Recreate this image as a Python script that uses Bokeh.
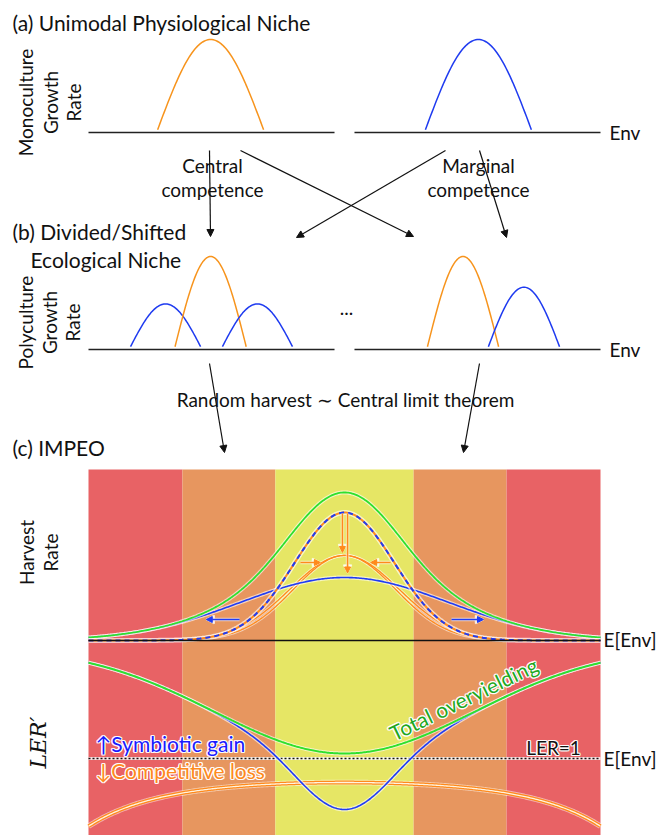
import numpy as np
from bokeh.plotting import figure
from bokeh.models import Range1d, Arrow, NormalHead
from bokeh.core.properties import value
from bokeh.embed import file_html
from bokeh.resources import INLINE

# ---------------- data ----------------
# Panel (a): monoculture growth-rate bumps (centre on Env axis, half-width, peak rate)
mono_colors = ["#F7941D", "#1F3BF0"]
mono_center = [-0.523, 0.523]
mono_halfwidth = [0.207, 0.207]
mono_peak = [1.0, 1.0]

# Panel (b): polyculture growth-rate bumps
poly_colors = ["#1F3BF0", "#F7941D", "#1F3BF0", "#F7941D", "#1F3BF0"]
poly_center = [-0.699, -0.523, -0.340, 0.463, 0.701]
poly_halfwidth = [0.137, 0.139, 0.137, 0.139, 0.139]
poly_peak = [0.49, 1.0, 0.49, 1.0, 0.67]
bump_floor = 0.03

# Panel (c) background bands (Env edges, colours)
band_edges = [-1.0, -0.633, -0.27, 0.27, 0.633, 1.0]
band_colors = ["#E86265", "#E7965F", "#E6E665", "#E7965F", "#E86265"]

# Panel (c) harvest-rate curves: peak, width
comp_peak = 0.567
comp_sigma = [0.198, 0.212]          # double orange line
symb_peak = 0.42
symb_sigma = 0.406
mono_mean_peak = 0.853
mono_mean_sigma = 0.195

# Panel (c) LER' curves
ler_total_min = 1.05
ler_total_rise = 1.06
ler_total_sigma = 0.508
ler_symb_dip = 0.56
ler_symb_sigma = 0.172
ler_comp_top = 0.76
ler_comp_scale = 0.133
ler_comp_sigma = 0.586

# arrows in panel (c) (Env, harvest rate)
vert_arrow_x = [-0.008, 0.012]
vert_arrow_from = 0.847
horiz_arrows = [(-0.172, -0.094, 0.52), (0.180, 0.102, 0.52)]
blue_arrows = [(-0.41, -0.54, 0.14), (0.418, 0.543, 0.14)]

ORANGE = "#FF8A1C"
BLUE = "#1F3BF5"
GREEN = "#2EE02E"
FONT = "Lato"

# ---------------- figure ----------------
W, H = 656, 835
p = figure(width=W, height=H, x_range=Range1d(0, W), y_range=Range1d(H, 0),
           output_backend="svg", toolbar_location=None, min_border=0,
           x_axis_type=None, y_axis_type=None)
p.grid.visible = False
p.outline_line_color = None
p.background_fill_color = "white"
p.border_fill_color = "white"

p.extra_x_ranges = {"env": Range1d((0 - 344) / 256, (W - 344) / 256)}
p.extra_y_ranges = {
    "a": Range1d((132 - H) / 93, 132 / 93),
    "b": Range1d((349 - H) / 93, 349 / 93),
    "h": Range1d((640 - H) / 150, 640 / 150),
    "ler": Range1d(1 + (758 - H) / 100, 1 + 758 / 100),
}

def bump(c, hw, pk):
    e = np.linspace(c - hw, c + hw, 81)
    v = bump_floor + (pk - bump_floor) * np.cos(np.pi / 2 * (e - c) / hw)
    return e, v

# panel (a) and (b) axes
for yr in ["a", "b"]:
    for x0, x1 in [(-1.0, -0.039), (0.039, 1.0)]:
        p.line([x0, x1], [0, 0], x_range_name="env", y_range_name=yr,
               line_color="#222222", line_width=1.3)

for c, hw, pk, col in zip(mono_center, mono_halfwidth, mono_peak, mono_colors):
    e, v = bump(c, hw, pk)
    p.line(e, v, x_range_name="env", y_range_name="a", line_color=col, line_width=1.5)

for c, hw, pk, col in zip(poly_center, poly_halfwidth, poly_peak, poly_colors):
    e, v = bump(c, hw, pk)
    p.line(e, v, x_range_name="env", y_range_name="b", line_color=col, line_width=1.5)

# panel (c) background
for i, col in enumerate(band_colors):
    p.quad(left=band_edges[i], right=band_edges[i + 1], bottom=-1.4, top=1.14,
           x_range_name="env", y_range_name="h", fill_color=col, line_color=None)

env = np.linspace(-1, 1, 401)
g = lambda pk, s: pk * np.exp(-env ** 2 / (2 * s ** 2))

comp = [g(comp_peak, s) for s in comp_sigma]
symb = g(symb_peak, symb_sigma)
total = g(comp_peak, np.mean(comp_sigma)) + symb
mono_mean = g(mono_mean_peak, mono_mean_sigma)

def L_(x, y, yr, col, w, alpha=1.0, dash="solid"):
    p.line(x, y, x_range_name="env", y_range_name=yr, line_color=col,
           line_width=w, line_alpha=alpha, line_dash=dash)

def halo_line(x, y, yr, col, w=1.6, halo=4.0, halo_alpha=0.6):
    L_(x, y, yr, "white", halo, halo_alpha)
    L_(x, y, yr, col, w)

for c in comp:
    L_(env, c, "h", "white", 3.2, 0.55)
for c in comp:
    L_(env, c, "h", ORANGE, 1.3)
halo_line(env, symb, "h", BLUE)
halo_line(env, total, "h", GREEN, w=1.8)
# dashed mean monoculture curve: orange under blue dashes
halo_line(env, mono_mean, "h", ORANGE, w=2.0, halo=5.0, halo_alpha=0.65)
L_(env, mono_mean, "h", BLUE, 2.0, dash="5 4")
# baseline
p.line([-1, 1], [0, 0], x_range_name="env", y_range_name="h", line_color="#111111", line_width=1.3)

# arrows in panel (c)
def arrow(x0, y0, x1, y1, col, size=6):
    p.add_layout(Arrow(end=NormalHead(size=size + 2, fill_color="white", line_color="white", line_width=1.5,
                                      fill_alpha=0.7, line_alpha=0.7),
                       x_start=x0, y_start=y0, x_end=x1, y_end=y1,
                       x_range_name="env", y_range_name="h",
                       line_color="white", line_width=3.5, line_alpha=0.6))
    p.add_layout(Arrow(end=NormalHead(size=size, fill_color=col, line_color=col, line_width=1),
                       x_start=x0, y_start=y0, x_end=x1, y_end=y1,
                       x_range_name="env", y_range_name="h",
                       line_color=col, line_width=1.6))

arrow(vert_arrow_x[0], vert_arrow_from, vert_arrow_x[0], comp_peak + 0.02, ORANGE)
arrow(vert_arrow_x[1], vert_arrow_from, vert_arrow_x[1], symb_peak + 0.03, ORANGE)
for x0, x1, y in horiz_arrows:
    arrow(x0, y, x1, y, ORANGE)
for x0, x1, y in blue_arrows:
    arrow(x0, y, x1, y, BLUE)

# LER' panel
ler_total = ler_total_min + ler_total_rise * (1 - np.exp(-env ** 2 / (2 * ler_total_sigma ** 2)))
ler_symb = ler_total - ler_symb_dip * np.exp(-env ** 2 / (2 * ler_symb_sigma ** 2))
ler_comp = ler_comp_top - ler_comp_scale * (np.exp(env ** 2 / (2 * ler_comp_sigma ** 2)) - 1)

L_([-1, 1], [1, 1], "ler", "white", 3.0, 0.8)
L_([-1, 1], [1, 1], "ler", "#111111", 1.3, dash="2 2")
# double orange line (orange - white - orange)
L_(env, ler_comp, "ler", "white", 5.6, 0.5)
L_(env, ler_comp, "ler", ORANGE, 3.8)
L_(env, ler_comp, "ler", "#FFF3E0", 1.3)
halo_line(env, ler_symb, "ler", BLUE)
halo_line(env, ler_total, "ler", GREEN, w=2.0)

# black arrows between panels (layout positions)
black_arrows = [(209, 150, 210, 236), (240, 150, 413, 236), (445, 150, 296, 237),
                (479, 150, 506, 237), (209, 363, 224, 452), (479, 363, 463, 452)]
for x0, y0, x1, y1 in black_arrows:
    p.add_layout(Arrow(end=NormalHead(size=7, fill_color="#111111", line_color="#111111"),
                       x_start=x0, y_start=y0, x_end=x1, y_end=y1,
                       line_color="#111111", line_width=1.2))

# ---------------- texts ----------------
def txt(x, y, s, size=19, align="left", baseline="middle", color="#111111", angle=0,
        font=FONT, style="normal", outline=False):
    def one(xx, yy, col, alpha=1.0):
        p.text(x=[xx], y=[yy], text=[s], text_font=value(font), text_font_size=f"{size}px",
               text_align=align, text_baseline=baseline, text_color=col, text_alpha=alpha,
               angle=angle, text_font_style=style)
    if outline:
        for dx, dy in [(-1.3, 0), (1.3, 0), (0, -1.3), (0, 1.3),
                       (-1, -1), (1, 1), (-1, 1), (1, -1)]:
            one(x + dx, y + dy, "white", 0.85)
    one(x, y, color)

T = 21
L = 19
txt(12, 22, "(a) Unimodal Physiological Niche", T)
txt(12, 231, "(b) Divided/Shifted", T)
txt(30, 259, "Ecological Niche", T)
txt(12, 447, "(c) IMPEO", T)

R = np.pi / 2
for x, s in [(25, "Monoculture"), (50, "Growth"), (73, "Rate")]:
    txt(x, 102, s, L, align="center", angle=R)
for x, s in [(25, "Polyculture"), (49, "Growth"), (72, "Rate")]:
    txt(x, 322, s, L, align="center", angle=R)
for x, s in [(26, "Harvest"), (50, "Rate")]:
    txt(x, 552, s, L, align="center", angle=R)
txt(38, 742, "LER\u2032", 22, align="center", angle=R, font="DejaVu Serif", style="italic")

txt(609, 132, "Env", L)
txt(609, 349, "Env", L)
txt(603, 639, "E[Env]", L)
txt(603, 758, "E[Env]", L)

txt(212, 165, "Central", L, align="center")
txt(212, 189, "competence", L, align="center")
txt(478, 165, "Marginal", L, align="center")
txt(478, 189, "competence", L, align="center")
txt(346, 307, "...", L, align="center")
txt(345, 399, "Random harvest \u223c Central limit theorem", L, align="center")

txt(95, 743, "\u2191Symbiotic gain", 21, color="#1A1AFF", outline=True)
txt(95, 770, "\u2193Competitive loss", 21, color=ORANGE, outline=True)
txt(463, 698, "Total overyielding", 21, align="center", color="#1FA81F",
    angle=np.deg2rad(26), outline=True)
txt(553, 747, "LER=1", L, align="center", color="#111111", outline=True)

open("out.html", "w").write(file_html(p, INLINE))
